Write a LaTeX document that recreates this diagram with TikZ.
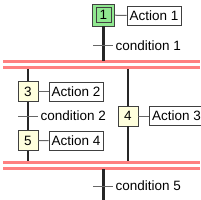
\documentclass[tikz,border=0pt]{standalone}
\usepackage{fontspec}
\setmainfont{Liberation Sans}
\begin{document}
\begin{tikzpicture}[x=1pt,y=-1pt,
  font=\fontsize{13.5}{15}\selectfont,
  stepbox/.style={draw=black!75,line width=0.9pt,fill=stepyellow,minimum size=20pt,inner sep=0pt},
  initbox/.style={draw=black!75,line width=0.9pt,fill=stepgreen,minimum size=22pt,inner sep=0pt},
  initinner/.style={draw=black!75,line width=0.9pt,minimum size=15pt,inner sep=0pt},
  actbox/.style={draw=black!75,line width=0.9pt,fill=white,minimum width=54pt,minimum height=19pt,inner sep=1pt},
  flow/.style={draw=black!85,line width=2.5pt},
  tick/.style={draw=black!60,line width=1pt},
  link/.style={draw=black!60,line width=1pt},
  sync/.style={draw=syncred,line width=3pt},
  cond/.style={anchor=west,inner sep=0pt}]
\definecolor{stepgreen}{HTML}{90E890}
\definecolor{stepyellow}{HTML}{FFFFDD}
\definecolor{syncred}{HTML}{FF8080}
\useasboundingbox (0,0) rectangle (200,200);
% sync bars
\coordinate (s1a) at (3,62); \coordinate (s1b) at (200,62);
\coordinate (s2a) at (3,68); \coordinate (s2b) at (200,68);
\coordinate (s3a) at (3,162); \coordinate (s3b) at (200,162);
\coordinate (s4a) at (3,168); \coordinate (s4b) at (200,168);
\draw[sync] (s1a) -- (s1b);
\draw[sync] (s2a) -- (s2b);
\draw[sync] (s3a) -- (s3b);
\draw[sync] (s4a) -- (s4b);
% steps
\node[initbox] (st1) at (103.5,15) {};
\node[initinner] (st1i) at (103.5,15) {1};
\node[stepbox] (st3) at (28,91.5) {3};
\node[stepbox] (st5) at (28,140.5) {5};
\node[stepbox] (st4) at (128,116) {4};
% actions
\node[actbox] (a1) at (154,16) {Action 1};
\node[actbox] (a2) at (76,91.5) {Action 2};
\node[actbox] (a4) at (76,141) {Action 4};
\node[actbox,anchor=west] (a3) at (149,116) {Action 3};
\draw[link] (st1) -- (a1);
\draw[link] (st3) -- (a2);
\draw[link] (st5) -- (a4);
\draw[link] (st4) -- (a3);
% flow lines
\coordinate (b1) at (103.5,61);
\coordinate (l1) at (28,69);
\coordinate (l2) at (28,161);
\coordinate (r1) at (128,69);
\coordinate (r2) at (128,161);
\coordinate (t1) at (103.5,169);
\coordinate (t2) at (103.5,200);
\draw[flow] (st1) -- (b1);
\draw[flow] (l1) -- (st3);
\draw[flow] (st3) -- (st5);
\draw[flow] (st5) -- (l2);
\draw[flow] (r1) -- (st4);
\draw[flow] (st4) -- (r2);
\draw[flow] (t1) -- (t2);
% transitions
\coordinate (c1a) at (93,46); \coordinate (c1b) at (113,46);
\coordinate (c2a) at (18,116); \coordinate (c2b) at (38,116);
\coordinate (c5a) at (93,186); \coordinate (c5b) at (113,186);
\draw[tick] (c1a) -- (c1b);
\draw[tick] (c2a) -- (c2b);
\draw[tick] (c5a) -- (c5b);
\node[cond] (cn1) at (115.5,46) {condition 1};
\node[cond] (cn2) at (40.5,116) {condition 2};
\node[cond] (cn5) at (115.5,186) {condition 5};
\end{tikzpicture}
\end{document}
